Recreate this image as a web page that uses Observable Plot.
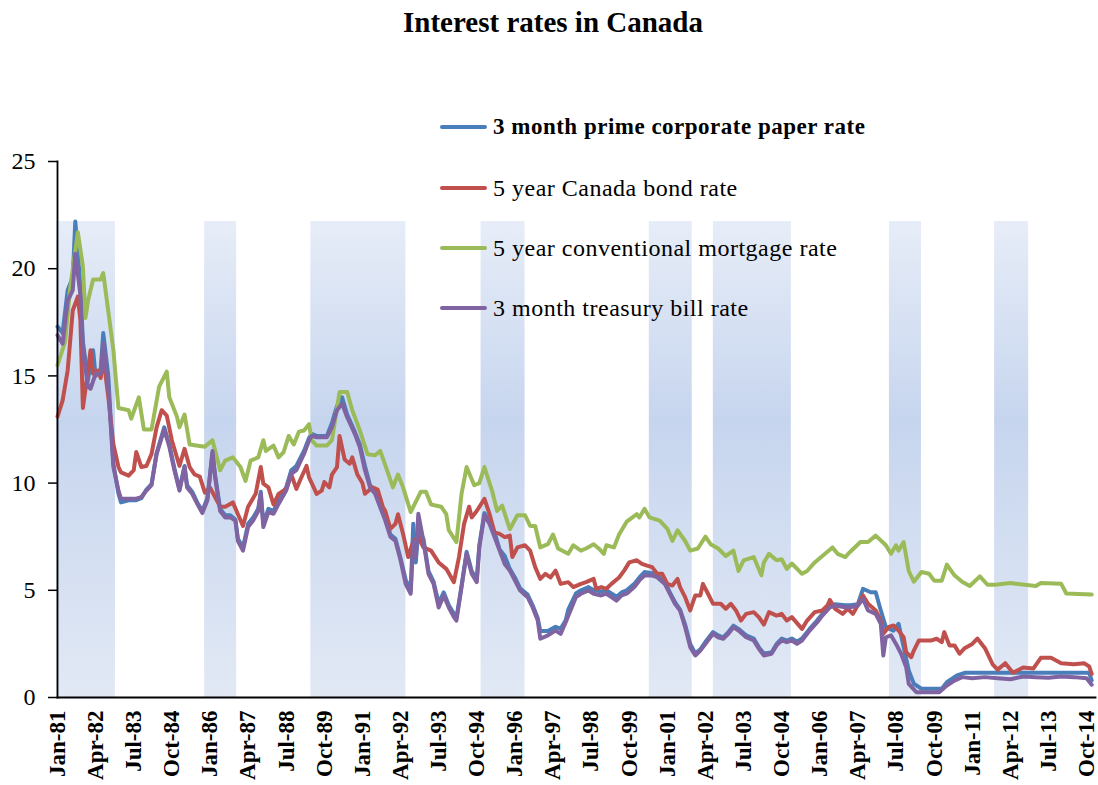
<!DOCTYPE html>
<html>
<head>
<meta charset="utf-8">
<script src="https://cdn.jsdelivr.net/npm/d3@7"></script>
<script src="https://cdn.jsdelivr.net/npm/@observablehq/plot@0.6"></script>
<style>
  body { margin: 0; background: #fff; font-family: "Liberation Serif", "DejaVu Serif", serif; }
  #wrap { position: relative; width: 1098px; height: 785px; overflow: hidden; }
  #title { height: 45px; line-height: 45px; text-align: center; font-weight: bold; font-size: 29px; padding-left: 8px; color: #000; }
  #legend { position: absolute; left: 0; top: 0; }
  .row { position: absolute; display: flex; align-items: center; height: 30px; white-space: nowrap; }
  .swatch { width: 47px; height: 4.5px; border-radius: 2px; margin-right: 6px; }
  .lab { font-size: 24px; letter-spacing: 0.5px; color: #000; }
  svg [aria-label="x-axis tick label"] text { font-weight: bold; }
</style>
</head>
<body>
<div id="wrap">
  <div id="title">Interest rates in Canada</div>
  <div id="chart"></div>
  <div id="legend"></div>
</div>
<script>
// month index 0 = Jan-81, 407 = Dec-14
const xTickLabels = ["Jan-81","Apr-82","Jul-83","Oct-84","Jan-86","Apr-87","Jul-88","Oct-89","Jan-91","Apr-92","Jul-93","Oct-94","Jan-96","Apr-97","Jul-98","Oct-99","Jan-01","Apr-02","Jul-03","Oct-04","Jan-06","Apr-07","Jul-08","Oct-09","Jan-11","Apr-12","Jul-13","Oct-14"];
const xTickMonths = [0,15,30,45,60,75,90,105,120,135,150,165,180,195,210,225,240,255,270,285,300,315,330,345,360,375,390,405];
const yTicks = [0,5,10,15,20,25];

const seriesNames = ["3 month prime corporate paper rate","5 year Canada bond rate","5 year conventional mortgage rate","3 month treasury bill rate"];
const seriesColors = ["#4a7ebb","#c0504d","#9bbb59","#8064a2"];

// shaded periods [start month, end month]
const bandStarts = [-0.4, 57.9, 99.7, 166.7, 232.9, 258.1, 327.4, 368.8];
const bandEnds   = [22.8, 70.5, 137.1, 184.0, 249.8, 288.8, 340.0, 382.2];
const bandTop = 22.2;

const paperRate = [[0,17.3],[2,17.0],[4,19.0],[6,19.6],[7,22.2],[9,19.2],[10,16.6],[12,14.8],[13,15.6],[14,16.2],[15,15.0],[17,15.3],[18,17.0],[20,15.0],[21,12.8],[22,10.9],[24,9.5],[25,9.1],[28,9.2],[31,9.2],[33,9.3],[35,9.7],[37,9.95],[39,11.4],[42,12.6],[44,11.8],[46,10.7],[48,9.7],[50,10.8],[51,9.9],[53,9.6],[55,9.1],[57,8.7],[59,9.3],[61,11.4],[62,10.4],[64,8.8],[66,8.5],[68,8.5],[70,8.3],[71,7.4],[73,7.0],[75,8.1],[77,8.4],[79,8.8],[80,9.6],[81,8.1],[83,8.8],[85,8.7],[87,9.2],[90,9.8],[92,10.6],[94,10.8],[97,11.5],[99,12.1],[100,12.3],[102,12.2],[106,12.2],[108,12.8],[110,13.6],[112,14.0],[114,13.2],[117,12.4],[119,11.8],[121,10.8],[123,9.9],[125,9.6],[127,9.0],[129,8.4],[131,7.6],[133,7.4],[135,6.5],[137,5.5],[139,5.0],[140,8.1],[141,6.3],[142,7.8],[144,7.4],[146,5.9],[148,5.4],[150,4.4],[152,4.9],[154,4.3],[156,3.9],[157,3.7],[159,5.2],[161,6.8],[163,5.9],[165,5.5],[166,7.1],[168,8.6],[170,8.2],[172,7.7],[174,6.9],[176,6.6],[178,6.0],[180,5.6],[182,5.1],[185,4.8],[187,4.3],[189,3.7],[190,3.1],[193,3.1],[196,3.3],[198,3.2],[200,3.6],[201,4.1],[204,4.85],[206,5.0],[209,5.15],[211,5.0],[214,4.95],[216,5.0],[218,4.85],[220,4.7],[222,4.9],[224,5.0],[227,5.3],[229,5.6],[231,5.85],[234,5.8],[236,5.7],[239,5.4],[241,4.9],[243,4.45],[245,4.1],[247,3.4],[249,2.5],[251,2.05],[253,2.25],[255,2.6],[258,3.05],[260,2.9],[262,2.8],[264,3.05],[266,3.35],[268,3.2],[271,2.9],[274,2.75],[276,2.35],[278,2.05],[281,2.1],[283,2.5],[285,2.75],[287,2.65],[289,2.75],[291,2.6],[293,2.75],[296,3.2],[299,3.6],[301,3.9],[304,4.3],[306,4.35],[310,4.3],[312,4.3],[315,4.35],[317,5.07],[320,4.91],[322,4.91],[324,4.06],[326,3.28],[329,3.12],[331,3.44],[333,2.35],[335,1.26],[337,0.64],[340,0.41],[348,0.41],[350,0.71],[354,1.03],[357,1.15],[406,1.15],[407,0.8]];

const bondRate = [[0,13.1],[2,13.85],[4,15.25],[6,18.05],[8,18.7],[9,17.6],[10,13.5],[12,15.25],[13,16.2],[14,15.1],[16,15.25],[17,14.9],[18,15.9],[20,14.0],[22,11.8],[24,10.75],[25,10.5],[28,10.35],[30,10.6],[31,11.45],[33,10.75],[35,10.8],[37,11.35],[39,12.6],[41,13.4],[43,13.15],[45,12.0],[48,10.8],[50,11.6],[52,10.75],[54,10.4],[56,10.3],[58,9.55],[60,9.8],[62,9.35],[64,8.9],[66,8.9],[69,9.1],[71,8.55],[73,8.0],[75,8.9],[78,9.5],[80,10.75],[81,9.97],[83,9.8],[85,9.0],[87,9.5],[90,9.73],[92,10.4],[94,9.73],[96,10.27],[98,10.8],[99,10.27],[102,9.5],[104,9.65],[105,10.05],[107,9.8],[108,10.4],[110,10.75],[111,12.2],[113,11.1],[115,10.9],[116,11.2],[118,10.4],[120,10.0],[121,9.5],[124,9.8],[126,9.7],[128,8.9],[129,8.7],[131,7.87],[133,8.1],[134,8.55],[136,7.63],[138,6.55],[140,7.3],[142,7.48],[144,7.0],[147,6.85],[150,6.3],[153,6.0],[156,5.38],[158,6.55],[160,8.1],[162,8.9],[163,8.4],[165,8.7],[168,9.27],[170,8.57],[172,7.7],[174,7.63],[176,7.48],[178,7.55],[179,6.55],[181,7.0],[184,7.1],[186,6.85],[188,6.08],[190,5.53],[192,5.77],[194,5.6],[196,5.92],[198,5.3],[201,5.38],[203,5.15],[206,5.3],[208,5.38],[211,5.53],[212,5.07],[214,5.15],[216,5.07],[218,5.3],[221,5.6],[223,5.92],[225,6.3],[228,6.4],[230,6.23],[232,6.15],[234,6.08],[236,5.77],[238,5.77],[240,5.3],[242,5.22],[244,5.53],[245,5.15],[247,4.68],[249,4.06],[251,4.76],[253,4.76],[254,5.3],[256,4.84],[258,4.37],[261,4.37],[263,4.14],[265,4.37],[267,4.06],[269,3.59],[271,3.9],[274,3.98],[276,3.75],[278,3.4],[280,3.98],[283,3.82],[285,3.9],[287,3.59],[289,3.75],[293,3.2],[295,3.59],[298,3.98],[301,4.06],[303,4.29],[304,4.55],[306,4.14],[309,3.9],[311,4.14],[313,3.9],[316,4.52],[317,4.76],[319,4.37],[322,4.06],[324,3.59],[325,2.97],[327,3.28],[329,3.36],[331,3.12],[333,2.81],[334,2.11],[336,1.88],[337,2.19],[339,2.66],[341,2.66],[344,2.66],[346,2.74],[348,2.58],[349,3.05],[351,2.43],[353,2.43],[355,2.04],[357,2.3],[360,2.5],[362,2.75],[365,2.3],[368,1.55],[370,1.3],[373,1.6],[376,1.15],[380,1.4],[384,1.35],[387,1.85],[391,1.85],[395,1.6],[400,1.55],[404,1.6],[406,1.45],[407,1.1]];

const mortgageRate = [[0,15.5],[3,16.6],[5,19.1],[8,21.7],[10,20.1],[11,17.7],[12,18.5],[14,19.5],[17,19.5],[18,19.8],[20,18.0],[22,16.2],[23,14.8],[24,13.5],[28,13.4],[29,13.0],[32,14.0],[34,12.5],[37,12.5],[40,14.5],[43,15.2],[44,14.0],[47,13.1],[48,12.6],[50,13.2],[52,11.8],[58,11.7],[61,12.0],[64,10.6],[66,11.05],[69,11.2],[72,10.75],[74,10.1],[76,11.05],[79,11.2],[81,12.0],[82,11.5],[85,11.75],[87,11.2],[89,11.45],[91,12.2],[93,11.8],[95,12.4],[97,12.45],[99,12.75],[100,12.0],[102,11.75],[106,11.75],[108,12.0],[111,14.25],[114,14.25],[116,13.4],[119,12.45],[122,11.35],[125,11.3],[127,11.5],[130,10.5],[132,9.8],[134,10.4],[136,9.8],[139,8.65],[143,9.6],[145,9.6],[147,9.0],[151,8.9],[153,8.55],[154,7.8],[157,7.25],[159,9.5],[161,10.75],[164,9.9],[166,10.0],[168,10.75],[171,9.65],[173,8.7],[175,8.95],[178,7.85],[181,8.5],[184,8.5],[186,8.0],[188,8.0],[190,7.0],[193,7.15],[195,7.6],[197,6.95],[201,6.7],[203,7.1],[206,6.85],[208,6.95],[211,7.15],[213,6.95],[215,6.7],[216,7.1],[219,7.0],[221,7.6],[222,7.8],[224,8.2],[228,8.55],[229,8.4],[231,8.8],[233,8.4],[237,8.25],[240,7.87],[242,7.3],[244,7.8],[247,7.3],[249,6.85],[252,6.95],[255,7.5],[257,7.15],[260,6.95],[263,6.6],[266,6.85],[268,5.9],[270,6.4],[274,6.55],[277,5.7],[278,6.3],[280,6.7],[283,6.4],[285,6.45],[287,6.0],[289,6.25],[293,5.77],[295,5.9],[298,6.3],[301,6.6],[305,7.0],[307,6.7],[310,6.55],[312,6.8],[316,7.25],[319,7.25],[322,7.55],[326,7.1],[328,6.7],[330,7.1],[331,6.85],[333,7.25],[335,5.9],[337,5.4],[340,5.85],[343,5.77],[345,5.45],[348,5.45],[350,6.2],[353,5.7],[356,5.4],[359,5.2],[363,5.65],[366,5.26],[369,5.26],[375,5.34],[385,5.2],[387,5.34],[395,5.3],[397,4.85],[407,4.8]];

const tbillRate = [[0,16.9],[2,16.5],[4,18.5],[6,19.0],[7,20.7],[9,18.8],[10,16.2],[12,14.5],[13,14.4],[15,15.1],[17,15.1],[18,16.5],[20,14.5],[21,12.6],[22,10.75],[24,9.65],[25,9.27],[28,9.27],[31,9.27],[33,9.35],[35,9.65],[37,9.9],[39,11.35],[42,12.5],[44,11.7],[46,10.6],[48,9.65],[50,10.75],[51,9.8],[53,9.5],[55,9.03],[57,8.6],[59,9.2],[61,11.5],[62,10.27],[64,8.7],[66,8.4],[68,8.4],[70,8.25],[71,7.3],[73,6.85],[75,7.95],[77,8.25],[79,8.7],[80,9.5],[81,7.95],[83,8.65],[85,8.57],[87,9.03],[90,9.65],[92,10.43],[94,10.6],[97,11.36],[99,11.98],[100,12.2],[102,12.14],[106,12.14],[108,12.6],[110,13.4],[112,13.7],[114,13.07],[117,12.3],[119,11.67],[121,10.6],[123,9.8],[125,9.5],[127,8.87],[129,8.25],[131,7.5],[133,7.3],[135,6.4],[137,5.3],[139,4.84],[140,7.3],[141,6.55],[142,8.57],[144,7.3],[146,5.77],[148,5.3],[150,4.2],[152,4.76],[154,4.2],[156,3.75],[157,3.59],[159,5.15],[161,6.7],[163,5.77],[165,5.38],[166,7.0],[168,8.5],[170,8.1],[172,7.48],[174,6.85],[176,6.23],[178,5.92],[180,5.46],[182,5.0],[185,4.68],[187,4.2],[189,3.59],[190,2.74],[193,2.9],[196,3.12],[198,2.97],[200,3.51],[201,3.8],[204,4.68],[206,4.84],[209,4.99],[211,4.84],[214,4.76],[216,4.84],[218,4.68],[220,4.52],[222,4.76],[224,4.84],[227,5.15],[229,5.46],[231,5.69],[234,5.69],[236,5.61],[239,5.3],[241,4.84],[243,4.37],[245,4.06],[247,3.28],[249,2.35],[251,1.96],[253,2.19],[255,2.5],[258,2.97],[260,2.81],[262,2.74],[264,2.97],[266,3.28],[268,3.12],[271,2.81],[274,2.66],[276,2.27],[278,1.96],[281,2.04],[283,2.43],[285,2.66],[287,2.58],[289,2.66],[291,2.5],[293,2.66],[296,3.12],[299,3.51],[301,3.82],[304,4.21],[306,4.29],[310,4.21],[312,4.21],[315,4.29],[317,4.6],[319,4.06],[322,3.9],[324,3.44],[325,1.96],[326,2.81],[328,2.9],[330,2.5],[332,2.04],[334,1.41],[335,0.64],[338,0.25],[342,0.25],[347,0.25],[350,0.56],[353,0.79],[356,0.95],[360,0.9],[365,0.95],[370,0.9],[375,0.85],[380,0.98],[385,0.95],[390,0.92],[395,0.98],[400,0.95],[405,0.9],[407,0.6]];

const seriesData = [paperRate, bondRate, mortgageRate, tbillRate];
const bands = bandStarts.map((s, i) => ({start: s, end: bandEnds[i], top: bandTop}));

const lineMarks = seriesData.map((data, i) =>
  Plot.line(data, {x: d => d[0], y: d => d[1], stroke: seriesColors[i], strokeWidth: 4,
    strokeLinejoin: "round", strokeLinecap: "round"}));

const chart = Plot.plot({
  width: 1098, height: 740,
  marginTop: 116, marginBottom: 88, marginLeft: 57, marginRight: 3,
  x: {type: "linear", domain: [0, 408.5], label: null},
  y: {domain: [0, 25], label: null},
  style: {fontFamily: "Liberation Serif, DejaVu Serif, serif", background: "transparent", color: "#000"},
  marks: [
    Plot.rect(bands, {x1: "start", x2: "end", y1: 0, y2: "top", fill: "url(#bandGrad)"}),
    ...lineMarks,
    Plot.frame({anchor: "left", stroke: "#000", strokeWidth: 1.8, strokeOpacity: 1}),
    Plot.frame({anchor: "bottom", stroke: "#000", strokeWidth: 1.8, strokeOpacity: 1}),
    Plot.axisY({ticks: yTicks, tickSize: 9, tickPadding: 13, fontSize: 24, label: null, tickFormat: d => String(d), strokeWidth: 1.5}),
    Plot.axisX({ticks: xTickMonths, label: null, tickFormat: d => xTickLabels[xTickMonths.indexOf(d)], tickRotate: -90, tickSize: 0, tickPadding: 13, fontSize: 23})
  ]
});

const ns = "http://www.w3.org/2000/svg";
const defs = document.createElementNS(ns, "defs");
defs.innerHTML = '<linearGradient id="bandGrad" x1="0" y1="0" x2="0" y2="1">' +
  '<stop offset="0" stop-color="#e7edf8"/><stop offset="0.42" stop-color="#c6d5ee"/><stop offset="1" stop-color="#e2e9f5"/></linearGradient>';
chart.insertBefore(defs, chart.firstChild);
document.getElementById("chart").appendChild(chart);

// legend
const legendTops = [127, 188, 248, 308];
const legend = document.getElementById("legend");
seriesNames.forEach((name, i) => {
  const row = document.createElement("div");
  row.className = "row";
  row.style.left = "440px";
  row.style.top = (legendTops[i] - 15) + "px";
  const sw = document.createElement("div");
  sw.className = "swatch";
  sw.style.background = seriesColors[i];
  const lab = document.createElement("span");
  lab.className = "lab";
  lab.textContent = name;
  if (i === 0) { lab.style.fontWeight = "bold"; lab.style.fontSize = "23px"; }
  row.appendChild(sw); row.appendChild(lab);
  legend.appendChild(row);
});
</script>
</body>
</html>
